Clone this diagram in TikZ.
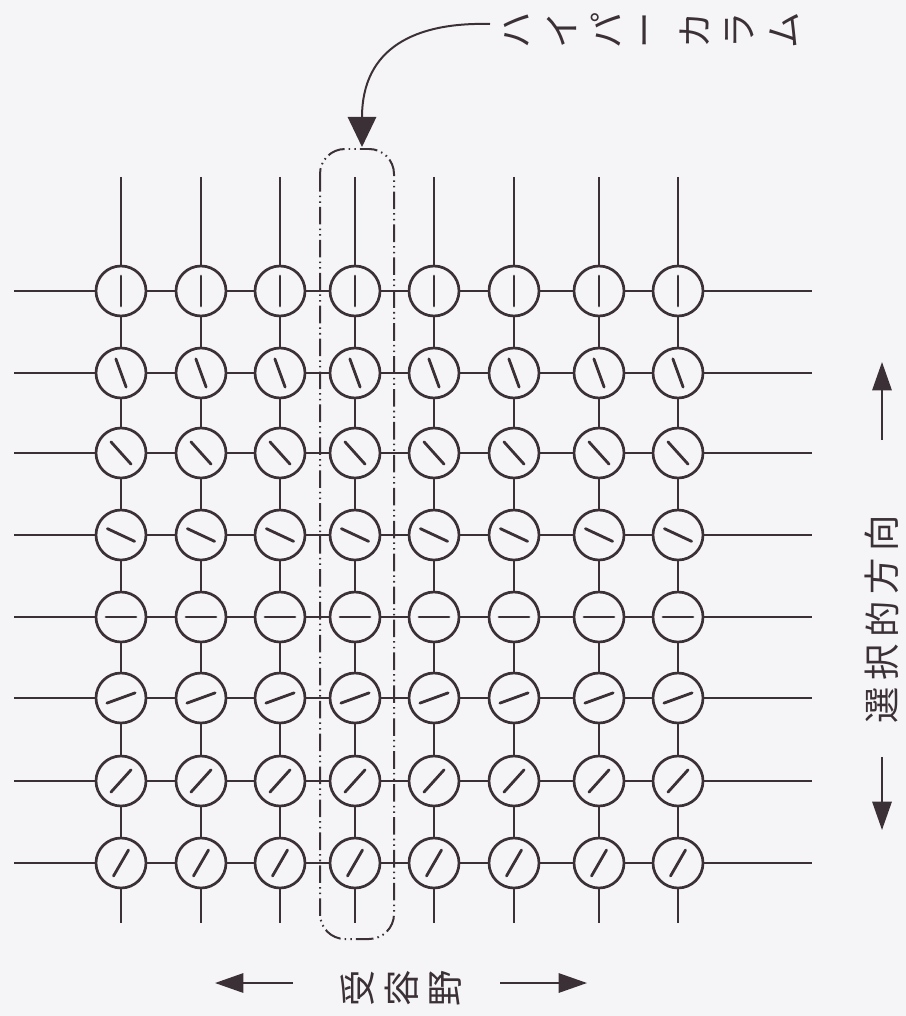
\documentclass[tikz,border=0pt]{standalone}
\usepackage{fontspec}
\newfontfamily\cjk{Noto Sans CJK JP}
\usetikzlibrary{arrows.meta}
\definecolor{ink}{RGB}{58,48,54}
\definecolor{paper}{RGB}{245,245,248}
\begin{document}
\begin{tikzpicture}[x=0.03cm,y=-0.03cm,
  gridline/.style={draw=ink,line width=1.6pt},
  cell/.style={circle,draw=ink,fill=paper,line width=2.3pt,minimum size=1.5cm,inner sep=0pt},
  bar/.style={draw=ink,line width=2.4pt,line cap=round},
  hyper/.style={draw=ink,line width=1.7pt,rounded corners=0.75cm,
    dash pattern=on 15pt off 3.5pt on 1.3pt off 3.5pt on 1.3pt off 3.5pt},
  jp/.style={font=\cjk\fontsize{31pt}{31pt}\selectfont,text=ink,inner sep=0pt,rotate=90},
  bigarrow/.style={draw=ink,line width=1.7pt,-{Triangle[length=0.9cm,width=0.85cm]}},
  sidearrow/.style={draw=ink,line width=1.7pt,-{Triangle[length=0.85cm,width=0.58cm]}}]
\fill[paper] (0,0) rectangle (906,1016);
% end coordinates of the grid lines
\foreach \y [count=\j] in {291,373,453,535,617,698,781,863} {
  \coordinate (L\j) at (14,\y);
  \coordinate (R\j) at (812,\y);
}
\foreach \x [count=\i] in {121,201,280,355,434,514,599,678} {
  \coordinate (T\i) at (\x,177);
  \coordinate (B\i) at (\x,923);
}
% cells
\foreach \x [count=\i] in {121,201,280,355,434,514,599,678} {
  \foreach \y [count=\j] in {291,373,453,535,617,698,781,863} {
    \node[cell] (c-\i-\j) at (\x,\y) {};
  }
}
% connectors
\foreach \j in {1,...,8} {
  \draw[gridline] (L\j) -- (c-1-\j);
  \draw[gridline] (c-8-\j) -- (R\j);
  \foreach \i [evaluate=\i as \ni using int(\i+1)] in {1,...,7} {
    \draw[gridline] (c-\i-\j) -- (c-\ni-\j);
  }
}
\foreach \i in {1,...,8} {
  \draw[gridline] (T\i) -- (c-\i-1);
  \draw[gridline] (c-\i-8) -- (B\i);
  \foreach \j [evaluate=\j as \nj using int(\j+1)] in {1,...,7} {
    \draw[gridline] (c-\i-\j) -- (c-\i-\nj);
  }
}
% orientation bars (y axis points down, so angles are mirrored)
\foreach \a [count=\j] in {-90,-110,-132,-155,-180,-20,-48,-60} {
  \foreach \i in {1,...,8} {
    \draw[bar] ([shift={(\a:15)}]c-\i-\j.center) -- ([shift={(\a+180:15)}]c-\i-\j.center);
  }
}
% hypercolumn
\draw[hyper] (320,149) rectangle (394,939);
\coordinate (hc) at (362,147);
\coordinate (tail) at (490,24);
\draw[bigarrow] (tail) .. controls (415,22) and (362,48) .. (hc);
\foreach \ch/\x [count=\k] in {ハ/517,イ/561.5,パ/606,ー/650.5,カ/695,ラ/739.5,ム/784} {
  \node[jp] (h\k) at (\x,30) {\ch};
}
% selective orientation
\foreach \ch/\y [count=\k] in {選/705,択/662,的/619,方/576,向/533} {
  \node[jp] (s\k) at (882,\y) {\ch};
}
\coordinate (su0) at (882,440);
\coordinate (su1) at (882,362);
\coordinate (sd0) at (882,757);
\coordinate (sd1) at (882,830);
\draw[sidearrow] (su0) -- (su1);
\draw[sidearrow] (sd0) -- (sd1);
% receptive field
\foreach \ch/\x [count=\k] in {受/358,容/402,野/446} {
  \node[jp] (r\k) at (\x,988) {\ch};
}
\coordinate (rl0) at (293,983);
\coordinate (rl1) at (215,983);
\coordinate (rr0) at (500,983);
\coordinate (rr1) at (587,983);
\draw[sidearrow] (rl0) -- (rl1);
\draw[sidearrow] (rr0) -- (rr1);
\end{tikzpicture}
\end{document}
